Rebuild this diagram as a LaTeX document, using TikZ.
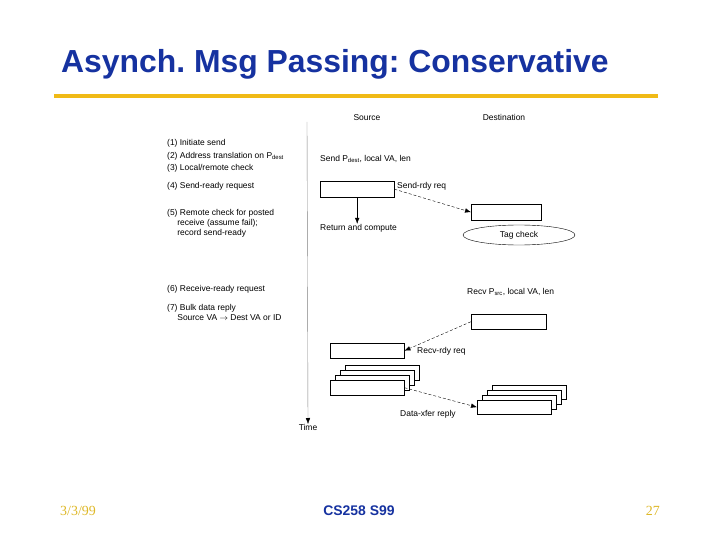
\documentclass[tikz,border=0pt]{standalone}
\usepackage{fontspec}
\setmainfont{Liberation Sans}
\newfontfamily\serifdate{Liberation Serif}
\usepackage{tikz}
\usepackage{xcolor}
\usetikzlibrary{shapes.geometric,positioning,arrows.meta}
\definecolor{slideblue}{RGB}{22,50,160}
\definecolor{slideyellow}{RGB}{240,186,22}
\definecolor{footyellow}{RGB}{222,184,40}
\frenchspacing
\tikzset{
    msg-box/.style = {draw=black, fill=white, thin, rectangle, anchor=north west, inner sep=0pt, minimum width=74bp, minimum height=15bp},
    small-text/.style = {font=\fontsize{8.5}{10}\selectfont, inner sep=0pt, anchor=west, align=left},
    msg-tip/.style = {-{Latex[black, length=6bp, width=4.5bp]}},
    msg-arrow/.style = {densely dashed, thin, msg-tip},
}
\begin{document}
\begin{tikzpicture}[x=1bp, y=-1bp]
\useasboundingbox (0,0) rectangle (720,540);
% title and rule
\node [anchor=west, inner sep=0pt, text=slideblue, font=\fontsize{32}{36}\selectfont\bfseries] (title) at (61,64) {Asynch. Msg Passing: Conservative};
\draw [slideyellow, line width=4bp] (54,96) -- (658,96);
% time axis
\coordinate (time-top) at (307,122);
\node [small-text, anchor=north] (time) at (308,424) {Time};
\draw [gray, thin, msg-tip] (time-top) -- (time.north);
% steps
\node [small-text] (step1) at (167,143) {(1) Initiate send};
\node [small-text] (step2) at (167,156) {(2) Address translation on P\textsubscript{dest}};
\node [small-text] (step3) at (167,168) {(3) Local/remote check};
\node [small-text] (step4) at (167,186) {(4) Send-ready request};
\node [small-text, anchor=north west] (step5) at (167,209) {(5) Remote check for posted\\\hspace{1.2em}receive (assume fail);\\\hspace{1.2em}record send-ready};
\node [small-text] (step6) at (167,289) {(6) Receive-ready request};
\node [small-text, anchor=north west] (step7) at (167,304) {(7) Bulk data reply\\\hspace{1.2em}Source VA $\to$ Dest VA or ID};
% columns
\node [small-text, anchor=center] (source) at (367,118) {Source};
\node [small-text, anchor=center] (dest) at (504,117) {Destination};
% send side
\node [small-text] (send) at (320,159) {Send P\textsubscript{dest}, local VA, len};
\node [msg-box, minimum height=16bp] (send-box) at (320,181) {};
\node [small-text] (send-rdy) at (397,186) {Send-rdy req};
\node [small-text] (ret) at (320,228) {Return and compute};
\draw [thin, msg-tip] (send-box.south) -- (send-box.south |- ret.north);
\node [msg-box, minimum width=70bp, minimum height=16bp] (tag-box) at (471,204) {};
\draw [msg-arrow] (send-box.east) -- (tag-box.west);
\node [draw=black, ellipse, thin, minimum width=112bp, minimum height=20bp, inner sep=0pt, font=\fontsize{8.5}{10}\selectfont] (tag) at (519,235) {Tag check};
% receive side
\node [small-text] (recv) at (467,292) {Recv P\textsubscript{src}, local VA, len};
\node [msg-box, minimum width=75bp] (recv-box) at (471,314) {};
\node [msg-box] (rdy-box) at (330,343) {};
\node [small-text] (recv-rdy) at (417,351) {Recv-rdy req};
\draw [msg-arrow] (recv-box.west) -- (rdy-box.east);
% data transfer
\foreach \i in {3,2,1,0} {
    \node [msg-box] (src-stack-\i) at (330+5*\i,380-5*\i) {};
    \node [msg-box, minimum height=14bp] (dst-stack-\i) at (477+5*\i,400-5*\i) {};
}
\draw [msg-arrow] (src-stack-0.east) -- (dst-stack-0.west);
\node [small-text] (xfer) at (400,414) {Data-xfer reply};
% footer
\node [anchor=west, inner sep=0pt, text=footyellow, font=\serifdate\fontsize{14}{16}\selectfont] (date) at (60,511) {3/3/99};
\node [inner sep=0pt, text=slideblue, font=\fontsize{14}{16}\selectfont\bfseries] (course) at (359,511) {CS258 S99};
\node [anchor=east, inner sep=0pt, text=footyellow, font=\serifdate\fontsize{14}{16}\selectfont] (page) at (660,511) {27};
\end{tikzpicture}
\end{document}
